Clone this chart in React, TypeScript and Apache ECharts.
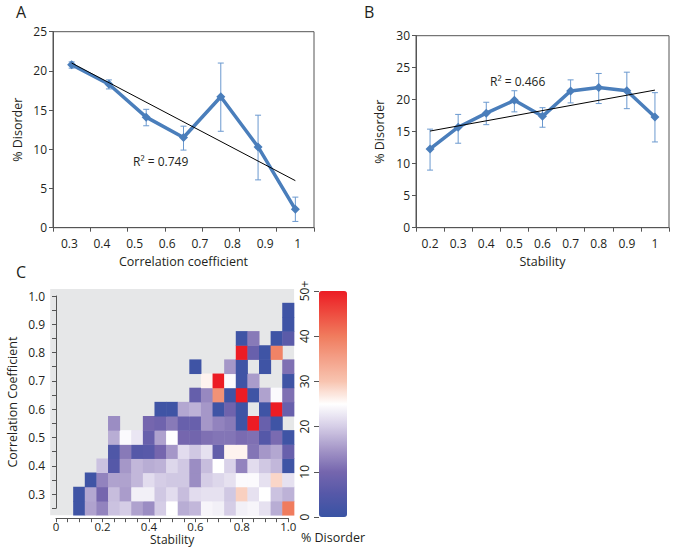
import React, { useEffect, useRef } from 'react';
import * as echarts from 'echarts';

const FONT = "'Open Sans', 'Noto Sans', sans-serif";
const TXT = '#231f20';
const AXC = '#555555';
const BLUE = '#4a7ebb';
const ERR = '#6b99cf';

// ---------- Panel A ----------
const aBins = ['1', '2', '3', '4', '5', '6', '7'];
const aTickLabels = ['0.3', '0.4', '0.5', '0.6', '0.7', '0.8', '0.9', '1'];
const aMean = [20.8, 18.3, 14.1, 11.5, 16.7, 10.3, 2.35];
const aLow = [20.35, 17.7, 13.0, 9.9, 12.3, 6.1, 0.8];
const aHigh = [21.15, 18.85, 15.1, 12.95, 21.0, 14.35, 3.9];
const aTrend = [21.0, 6.0];
const aR2 = 'R² = 0.749';

// ---------- Panel B ----------
const bCats = ['0.2', '0.3', '0.4', '0.5', '0.6', '0.7', '0.8', '0.9', '1'];
const bMean = [12.3, 15.7, 17.9, 19.9, 17.4, 21.35, 21.9, 21.4, 17.3];
const bLow = [9.0, 13.2, 16.1, 18.1, 15.7, 19.5, 19.4, 18.6, 13.4];
const bHigh = [15.4, 17.7, 19.6, 21.4, 18.75, 23.1, 24.1, 24.3, 21.1];
const bTrend = [15.1, 21.5];
const bR2 = 'R² = 0.466';

// ---------- Panel C ----------
const cX = [0, 0.05, 0.1, 0.15, 0.2, 0.25, 0.3, 0.35, 0.4, 0.45, 0.5, 0.55, 0.6, 0.65, 0.7, 0.75, 0.8, 0.85, 0.9, 0.95, 1.0];
const cY = [0.25, 0.3, 0.35, 0.4, 0.45, 0.5, 0.55, 0.6, 0.65, 0.7, 0.75, 0.8, 0.85, 0.9, 0.95, 1.0];
const _ = null;
// rows from stability 0 .. 1.0 (21 columns), one row per correlation bin (bottom to top)
const cRows: (number | null)[][] = [
  [_, _, 1, 16, 13, 19, 20, 16, 14, 20, 25, 17, 18, 24, 23.5, 20, 23.5, 24, 22, 17, 40],
  [_, _, 1, 16.5, 10, 18.5, 15.5, 23.5, 23.5, 19.5, 21.5, 18.5, 21.5, 22, 22, 19.5, 29, 22, 25, 19, 17.5],
  [_, _, _, 1, 13, 16, 16, 18, 21.5, 20, 19.5, 19.5, 14, 20, 21, 22, 24.5, 24.5, 22, 28.5, 22],
  [_, _, _, _, 19, 5, 15, 18, 17, 17.5, 21, 19.5, 14, 18.5, 25, 20.5, 13, 21.5, 19.5, 18, 1],
  [_, _, _, _, _, 4, 12, 5, 5.5, 10, 15, 21.5, 19.5, 22, 7, 26, 26, 11.5, 15, 16.5, 8],
  [_, _, _, _, _, 17, 24.5, 22.5, 8, 16, 25, 10, 9.5, 11, 11.5, 11.5, 10.5, 11, 5, 10.5, 1],
  [_, _, _, _, _, 14, _, _, 10, 9, 12, 8, 8, 15, 13, 12, 1, 50, 8, 1, _],
  [_, _, _, _, _, _, _, _, _, 1, 1, 16.5, 17.5, 15, 1, 9, 1, _, 1, 50, 8],
  [_, _, _, _, _, _, _, _, _, _, _, _, 7.5, 13.5, 37, 1, 50, 1, 16, 24.5, 11],
  [_, _, _, _, _, _, _, _, _, _, _, _, _, 26, 50, 24.5, 1, 15.5, _, _, 1],
  [_, _, _, _, _, _, _, _, _, _, _, _, 1, _, _, 15, 1, _, 1, _, 11],
  [_, _, _, _, _, _, _, _, _, _, _, _, _, _, _, _, 50, 8, 1, 39, _],
  [_, _, _, _, _, _, _, _, _, _, _, _, _, _, _, _, 1, 12, _, 1, 6],
  [_, _, _, _, _, _, _, _, _, _, _, _, _, _, _, _, _, _, _, _, 1],
  [_, _, _, _, _, _, _, _, _, _, _, _, _, _, _, _, _, _, _, _, 1],
  [_, _, _, _, _, _, _, _, _, _, _, _, _, _, _, _, _, _, _, _, _],
];
const cColors = ['#3953a4', '#5558a8', '#7566ae', '#a597c8', '#d5cde6', '#ffffff', '#f8c4b0', '#f4a088', '#f07c5e', '#ee4c40', '#ec1c24'];
const cBarTicks = [0, 10, 20, 30, 40, 50];

const labelStyle = { color: TXT, fontFamily: FONT, fontSize: 12 };
const nameStyle = { color: TXT, fontFamily: FONT, fontSize: 12.5 };

function errorRender(color: string) {
  return (params: any, api: any) => {
    const x = api.value(0);
    const lo = api.coord([x, api.value(1)]);
    const hi = api.coord([x, api.value(2)]);
    const w = 3;
    const style = { stroke: color, lineWidth: 1 };
    return {
      type: 'group',
      children: [
        { type: 'line', shape: { x1: lo[0], y1: lo[1], x2: hi[0], y2: hi[1] }, style },
        { type: 'line', shape: { x1: lo[0] - w, y1: lo[1], x2: lo[0] + w, y2: lo[1] }, style },
        { type: 'line', shape: { x1: hi[0] - w, y1: hi[1], x2: hi[0] + w, y2: hi[1] }, style },
      ],
    };
  };
}

export default function App() {
  const ref = useRef<HTMLDivElement>(null);
  useEffect(() => {
    const chart = echarts.init(ref.current!, undefined, { renderer: 'svg' });

    const heatData: number[][] = [];
    cRows.forEach((row, j) => {
      row.forEach((v, k) => {
        if (v !== null) heatData.push([k, j, v]);
      });
    });

    const tickOut = { show: true, inside: false, length: 4, lineStyle: { color: AXC } };
    const line = { show: true, lineStyle: { color: AXC, width: 1 } };

    const option: any = {
      animation: false,
      textStyle: { fontFamily: FONT },
      grid: [
        { left: 53, top: 31.7, width: 261, height: 196, show: true, borderColor: AXC, borderWidth: 1, backgroundColor: 'transparent', outerBoundsMode: 'none' },
        { left: 416, top: 35.7, width: 253, height: 192, show: true, borderColor: AXC, borderWidth: 1, backgroundColor: 'transparent', outerBoundsMode: 'none' },
        { left: 50.2, top: 288.9, width: 243.9, height: 226.4, show: true, borderWidth: 0, backgroundColor: '#e6e7e8', outerBoundsMode: 'none' },
        { left: 56, top: 296, width: 232.3, height: 212.2, show: false, outerBoundsMode: 'none' },
        { left: 319, top: 291, width: 28, height: 226, show: false, outerBoundsMode: 'none' },
      ],
      xAxis: [
        { gridIndex: 0, type: 'category', data: aBins, axisLine: line, axisTick: tickOut, axisLabel: { show: false }, splitLine: { show: false } },
        {
          gridIndex: 0, type: 'category', data: aTickLabels, position: 'bottom',
          axisLine: { show: false }, axisTick: { show: false }, axisLabel: { ...labelStyle, margin: 10 },
          name: 'Correlation coefficient', nameLocation: 'middle', nameGap: 27, nameTextStyle: nameStyle, nameMoveOverlap: false,
        },
        {
          gridIndex: 1, type: 'category', data: bCats, axisLine: line, axisTick: tickOut, axisLabel: { ...labelStyle, margin: 10 },
          name: 'Stability', nameLocation: 'middle', nameGap: 27, nameTextStyle: nameStyle, nameMoveOverlap: false,
        },
        { gridIndex: 2, type: 'category', data: cX.map(String), show: false },
        {
          gridIndex: 3, type: 'value', min: 0, max: 1, interval: 0.05, offset: 10,
          axisLine: line, axisTick: tickOut, splitLine: { show: false },
          axisLabel: {
            ...labelStyle, fontSize: 11.5, margin: 2,
            formatter: (v: number) => {
              const r = Math.round(v * 100);
              if (r % 20 !== 0) return '';
              return r === 0 ? '0' : (r / 100).toFixed(1);
            },
          },
          name: 'Stability', nameLocation: 'middle', nameGap: 15, nameTextStyle: { ...nameStyle, fontSize: 12 }, nameMoveOverlap: false,
        },
        {
          gridIndex: 4, type: 'value', min: 0, max: 1, axisLine: { show: false }, axisTick: { show: false }, axisLabel: { show: false }, splitLine: { show: false },
          name: '% Disorder', nameLocation: 'middle', nameGap: 14, nameTextStyle: nameStyle, nameMoveOverlap: false,
        },
      ],
      yAxis: [
        {
          gridIndex: 0, type: 'value', min: 0, max: 25, interval: 5, axisLine: line, axisTick: tickOut, splitLine: { show: false },
          axisLabel: { ...labelStyle, margin: 6 },
          name: '% Disorder', nameLocation: 'middle', nameGap: 29, nameTextStyle: nameStyle, nameMoveOverlap: false,
        },
        {
          gridIndex: 1, type: 'value', min: 0, max: 30, interval: 5, axisLine: line, axisTick: tickOut, splitLine: { show: false },
          axisLabel: { ...labelStyle, margin: 6 },
          name: '% Disorder', nameLocation: 'middle', nameGap: 30, nameTextStyle: nameStyle, nameMoveOverlap: false,
        },
        { gridIndex: 2, type: 'category', data: cY.map(String), show: false },
        {
          gridIndex: 3, type: 'value', min: 0.25, max: 1, interval: 0.05, offset: 5,
          axisLine: line, axisTick: tickOut, splitLine: { show: false },
          axisLabel: {
            ...labelStyle, margin: 6,
            formatter: (v: number) => {
              const r = Math.round(v * 100);
              return r % 10 === 0 ? (r / 100).toFixed(1) : '';
            },
          },
          name: 'Correlation Coefficient', nameLocation: 'middle', nameGap: 32, nameTextStyle: nameStyle, nameMoveOverlap: false,
        },
        {
          gridIndex: 4, type: 'value', min: 0, max: 50, interval: 10,
          axisLine: { show: false }, axisTick: { show: true, length: 5, lineStyle: { color: AXC } }, splitLine: { show: false },
          axisLabel: { ...labelStyle, rotate: 90, margin: 9, formatter: (v: number) => (v === cBarTicks[cBarTicks.length - 1] ? v + '+' : String(v)) },
        },
      ],
      visualMap: {
        type: 'continuous', seriesIndex: 6, min: 0, max: 50, calculable: false, orient: 'vertical',
        left: 319, top: 291, itemWidth: 28, itemHeight: 226, padding: 0,
        inRange: { color: cColors },
      },
      graphic: [
        { type: 'text', left: 16, top: 4, style: { text: 'A', fontSize: 16, fontFamily: FONT, fill: TXT } },
        { type: 'text', left: 364, top: 4, style: { text: 'B', fontSize: 16, fontFamily: FONT, fill: TXT } },
        { type: 'text', left: 16, top: 264, style: { text: 'C', fontSize: 16, fontFamily: FONT, fill: TXT } },
        { type: 'text', left: 133, top: 155, style: { text: aR2, fontSize: 12, fontFamily: FONT, fill: TXT } },
        { type: 'text', left: 490, top: 75, style: { text: bR2, fontSize: 12, fontFamily: FONT, fill: TXT } },
      ],
      series: [
        {
          type: 'line', xAxisIndex: 0, yAxisIndex: 0, data: aMean, symbol: 'diamond', symbolSize: 9, z: 3,
          lineStyle: { color: BLUE, width: 3.5 }, itemStyle: { color: BLUE },
        },
        {
          type: 'custom', xAxisIndex: 0, yAxisIndex: 0, z: 2, renderItem: errorRender(ERR),
          data: aMean.map((_m, i) => [i, aLow[i], aHigh[i]]), encode: { x: 0, y: [1, 2] },
        },
        {
          type: 'line', xAxisIndex: 0, yAxisIndex: 0, data: [[0, aTrend[0]], [aBins.length - 1, aTrend[1]]], symbol: 'none', z: 4,
          lineStyle: { color: '#000', width: 1 },
        },
        {
          type: 'line', xAxisIndex: 2, yAxisIndex: 1, data: bMean, symbol: 'diamond', symbolSize: 9, z: 3,
          lineStyle: { color: BLUE, width: 3.5 }, itemStyle: { color: BLUE },
        },
        {
          type: 'custom', xAxisIndex: 2, yAxisIndex: 1, z: 2, renderItem: errorRender(ERR),
          data: bMean.map((_m, i) => [i, bLow[i], bHigh[i]]), encode: { x: 0, y: [1, 2] },
        },
        {
          type: 'line', xAxisIndex: 2, yAxisIndex: 1, data: [[0, bTrend[0]], [bCats.length - 1, bTrend[1]]], symbol: 'none', z: 4,
          lineStyle: { color: '#000', width: 1 },
        },
        {
          type: 'heatmap', xAxisIndex: 3, yAxisIndex: 2, data: heatData, emphasis: { disabled: true },
          itemStyle: { borderWidth: 0 },
        },
      ],
    };
    chart.setOption(option);
    return () => chart.dispose();
  }, []);
  return <div ref={ref} style={{ position: 'absolute', left: 0, top: 0, width: 685, height: 548 }} />;
}
